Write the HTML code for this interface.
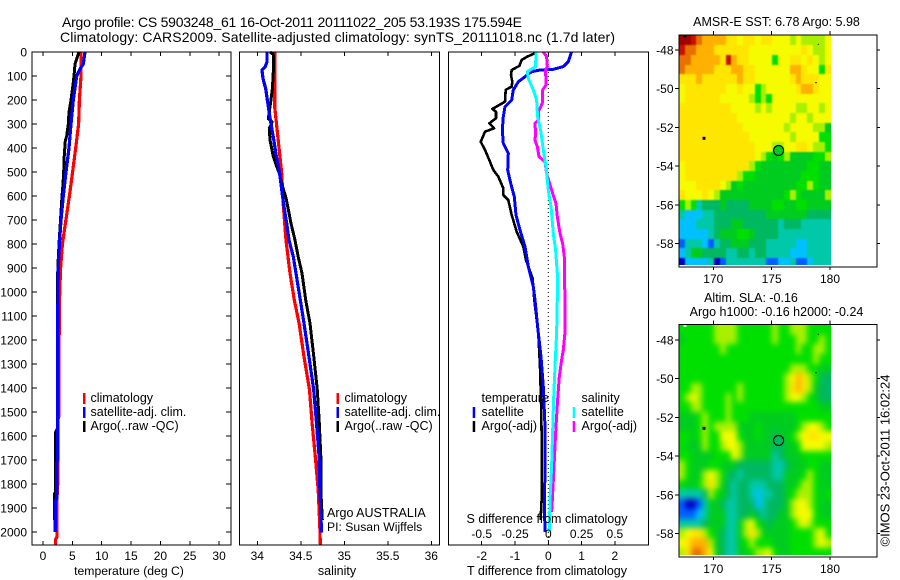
<!DOCTYPE html>
<html>
<head>
<meta charset="utf-8">
<title>Argo profile chart</title>
<style>
html,body{margin:0;padding:0;background:#fff;}
svg{display:block;font-family:"Liberation Sans",sans-serif;font-size:12.5px;fill:#000;}
text{fill:#000;stroke:none;}
</style>
</head>
<body>
<svg id="chart" xmlns="http://www.w3.org/2000/svg" width="900" height="580" viewBox="0 0 900 580">
<defs>
<filter id="soft-sst" x="-5%" y="-5%" width="110%" height="110%" color-interpolation-filters="sRGB">
<feGaussianBlur stdDeviation="0.9"/>
<feComponentTransfer><feFuncA type="linear" slope="30"/></feComponentTransfer>
</filter>
<filter id="soft-sla" x="-5%" y="-5%" width="110%" height="110%" color-interpolation-filters="sRGB">
<feGaussianBlur stdDeviation="3"/>
<feComponentTransfer><feFuncA type="linear" slope="30"/></feComponentTransfer>
</filter>
<clipPath id="clip-sst-map"><rect x="679" y="35.5" width="152" height="229.5"/></clipPath>
<clipPath id="clip-sla-map"><rect x="679" y="325" width="152" height="230"/></clipPath>
</defs>
<rect x="0" y="0" width="900" height="580" fill="#fff"/>
<g id="marks"></g>
<g id="labels">
<text x="62" y="27" font-size="14" textLength="460" lengthAdjust="spacing">Argo profile: CS 5903248_61 16-Oct-2011 20111022_205 53.193S 175.594E</text>
<text x="60" y="42" font-size="14" textLength="555" lengthAdjust="spacing">Climatology: CARS2009. Satellite-adjusted climatology: synTS_20111018.nc (1.7d later)</text>

<text x="129" y="575" text-anchor="middle" font-size="12.2">temperature (deg C)</text>
<text x="337" y="575" text-anchor="middle">salinity</text>
<text x="547" y="575" text-anchor="middle">T difference from climatology</text>
<text x="547" y="523" text-anchor="middle">S difference from climatology</text>

<rect x="83" y="393" width="2.5" height="11" fill="#ff0000"/>
<rect x="83" y="407" width="2.5" height="11" fill="#0000ff"/>
<rect x="83" y="421" width="2.5" height="11" fill="#000"/>
<text x="90.5" y="402">climatology</text>
<text x="90.5" y="416">satellite-adj. clim.</text>
<text x="90.5" y="430">Argo(..raw -QC)</text>

<rect x="336.5" y="393" width="2.5" height="11" fill="#ff0000"/>
<rect x="336.5" y="407" width="2.5" height="11" fill="#0000ff"/>
<rect x="336.5" y="421" width="2.5" height="11" fill="#000"/>
<text x="344.5" y="402">climatology</text>
<text x="344.5" y="416">satellite-adj. clim.</text>
<text x="344.5" y="430">Argo(..raw -QC)</text>
<text x="327" y="517">Argo AUSTRALIA</text>
<text x="327" y="531" font-size="12.2">PI: Susan Wijffels</text>

<text x="481.5" y="402">temperature</text>
<rect x="472.7" y="407" width="2.5" height="11" fill="#0000ff"/>
<rect x="472.7" y="421" width="2.5" height="11" fill="#000"/>
<text x="481.5" y="416">satellite</text>
<text x="481.5" y="430">Argo(-adj)</text>
<text x="581.5" y="402">salinity</text>
<rect x="572.7" y="407" width="2.5" height="11" fill="#00ffff"/>
<rect x="572.7" y="421" width="2.5" height="11" fill="#ff00ff"/>
<text x="581.5" y="416">satellite</text>
<text x="581.5" y="430">Argo(-adj)</text>

<text x="776.5" y="26" text-anchor="middle">AMSR-E SST: 6.78 Argo: 5.98</text>
<text x="751" y="302" text-anchor="middle">Altim. SLA: -0.16</text>
<text x="776.5" y="316" text-anchor="middle">Argo h1000: -0.16 h2000: -0.24</text>
<text transform="translate(889.5,546.5) rotate(-90)" font-size="13">©IMOS 23-Oct-2011 16:02:24</text>
</g>
</svg>
<script>
/* ---------- profile data ---------- */
const tempClimDepths = [0,100,200,300,400,500,600,700,800,900,1000,1100,1200,1300,1400,1520,1530,1780,1850,2020,2030,2055];
const tempClimValues = [6.47,6.47,6.2,6.07,5.57,5.05,4.5,3.9,3.3,3.0,2.85,2.8,2.75,2.72,2.7,2.7,2.55,2.55,2.4,2.4,2.15,2.15];
const tempSatDepths = [0,50,70,100,150,200,300,400,500,600,700,800,900,1000,1100,1700,1710,1860,1870,2000];
const tempSatValues = [7.15,6.87,6.3,5.74,5.45,5.16,4.77,4.43,3.92,3.46,3.07,2.8,2.6,2.55,2.5,2.5,2.35,2.35,2.1,2.1];
const tempArgoDepths = [0,50,100,150,200,250,300,350,370,450,500,550,600,700,800,900,1000,1100,1570,1583,1830,1840,1950];
const tempArgoValues = [6.13,5.45,5.28,5.05,4.77,4.43,4.31,4.03,3.8,3.58,3.52,3.4,3.23,2.98,2.73,2.52,2.47,2.45,2.45,2.16,2.16,2.0,2.0];

const salClimDepths = [0,228,367,506,645,784,922,1033,1131,1270,1408,1547,1686,1825,1965,2055];
const salClimValues = [34.2,34.2,34.24,34.28,34.3,34.33,34.376,34.425,34.48,34.537,34.6,34.63,34.667,34.7,34.717,34.725];
const salSatDepths = [0,42,62,76,111,153,228,292,367,436,506,575,645,714,784,853,922,1033,1131,1270,1408,1547,1686,1825,1965,2003];
const salSatValues = [34.11,34.11,34.09,34.054,34.065,34.096,34.127,34.154,34.19,34.22,34.257,34.28,34.307,34.338,34.364,34.414,34.445,34.494,34.537,34.594,34.648,34.68,34.71,34.72,34.735,34.735];
const salArgoDepths = [0,10,83,153,208,278,292,319,367,436,464,506,561,603,645,714,784,853,922,1033,1131,1270,1408,1547,1686,1825,1950];
const salArgoValues = [34.146,34.184,34.184,34.173,34.154,34.127,34.17,34.138,34.146,34.184,34.21,34.253,34.29,34.326,34.35,34.387,34.433,34.47,34.514,34.556,34.606,34.65,34.69,34.713,34.73,34.73,34.747];

const dTArgoDepths = [5,19,33,58,75,96,124,144,158,207,237,249,276,297,318,332,374,408,457,492,519,568,596,617,679,749,811,867,943,1033,1172,1311,1450,1589,1867,1950];
const dTArgoValues = [-0.40,-0.63,-0.80,-0.87,-1.10,-1.12,-1.08,-1.10,-1.28,-1.30,-1.68,-1.57,-1.57,-1.77,-1.63,-1.90,-2.03,-1.90,-1.75,-1.65,-1.50,-1.35,-1.35,-1.20,-1.10,-0.95,-0.75,-0.67,-0.47,-0.42,-0.30,-0.25,-0.22,-0.20,-0.20,-0.23];
const dTSatDepths = [0,40,61,72,75,82,103,124,158,200,228,269,325,381,422,492,547,603,679,742,811,894,978,1033,1144,1269,1394,1561,1755,1867,2000];
const dTSatValues = [0.70,0.60,0.45,0.15,-0.25,-0.50,-0.70,-0.90,-1.05,-1.10,-1.30,-1.35,-1.38,-1.35,-1.20,-1.22,-1.13,-1.02,-0.97,-0.85,-0.70,-0.60,-0.45,-0.40,-0.32,-0.22,-0.15,-0.10,-0.10,-0.12,-0.10];
const dSArgoDepths = [0,19,61,75,138,158,214,249,283,297,339,367,394,436,457,506,575,631,686,756,797,853,1033,1172,1242,1283,1353,1450,1589,1728,1867,1916];
const dSArgoValues = [-0.0375,-0.0125,-0.0075,-0.02,-0.0175,-0.0425,-0.045,-0.075,-0.075,-0.10,-0.095,-0.10,-0.0825,-0.07,-0.025,-0.0125,0.025,0.0575,0.0675,0.0875,0.1075,0.12,0.125,0.125,0.1125,0.10,0.0825,0.07,0.055,0.0425,0.03,0.025];
const dSSatDepths = [0,61,82,110,158,200,269,325,408,478,575,644,756,825,922,1033,1172,1311,1450,1589,1728,1867,2000];
const dSSatValues = [-0.0925,-0.095,-0.1575,-0.15,-0.1125,-0.0875,-0.08,-0.0575,-0.0375,-0.0175,0,0.02,0.0375,0.055,0.0675,0.0675,0.0625,0.05,0.04,0.0325,0.025,0.0125,0.0075];

/* ---------- tick labels ---------- */
const depthTicks = [0,100,200,300,400,500,600,700,800,900,1000,1100,1200,1300,1400,1500,1600,1700,1800,1900,2000];
const tempTicks = [0,5,10,15,20,25,30];
const salTicks = [34,34.5,35,35.5,36];
const dTTicks = [-2,-1,0,1,2];
const dSTicks = [-0.5,-0.25,0,0.25,0.5];
const lonTicks = [170,175,180];
const latTicks = [-48,-50,-52,-54,-56,-58];

/* ---------- map data: colour-scale level per 0.5 degree cell ---------- */
const sstRows = [
[13,13,12,11,10,10,10,10,9,9,8,9,9,8,9,9,8,8,8,7,8,7,7,7,7,8],
[12,11,11,10,10,10,9,9,9,9,9,9,8,8,8,8,8,8,8,8,8,9,8,7,7,8],
[11,11,10,10,10,10,10,9,12,10,9,9,8,8,8,8,6,8,8,9,9,8,9,8,7,8],
[11,10,10,10,10,10,9,9,9,10,10,9,9,8,8,8,8,8,8,10,10,9,8,8,6,9],
[9,9,9,10,9,9,9,9,9,9,10,9,9,8,8,8,8,8,8,9,10,9,9,9,8,8],
[8,9,9,9,9,9,9,9,8,8,9,8,8,6,7,8,8,8,8,8,9,10,10,9,8,8],
[8,9,9,9,9,9,9,8,8,8,8,8,7,6,7,6,8,8,8,8,8,8,8,8,8,8],
[9,9,9,9,9,9,9,9,9,8,8,8,8,7,8,7,8,8,8,8,7,7,8,8,7,8],
[9,9,9,9,9,9,9,9,9,9,8,8,8,8,8,8,8,8,8,7,8,8,7,8,8,8],
[9,9,9,9,9,9,9,9,9,9,9,8,8,8,8,8,8,8,7,8,8,8,8,7,7,5],
[9,9,9,9,9,9,9,9,9,9,9,9,8,8,8,8,8,8,8,7,8,8,8,8,6,6],
[9,9,9,9,9,9,9,9,9,9,9,9,9,8,8,8,7,7,8,8,9,9,8,7,7,6],
[9,9,9,9,9,9,9,9,9,9,9,9,9,8,7,6,5,6,7,5,5,5,5,6,6,7],
[8,9,9,9,9,9,9,9,9,9,9,9,7,6,5,5,5,5,5,5,5,5,6,6,5,5],
[8,9,9,9,9,9,9,9,9,9,7,6,6,5,5,5,5,5,5,5,5,6,6,6,5,5],
[8,8,8,9,9,9,9,8,7,5,6,5,5,5,5,5,5,5,5,5,6,6,7,6,5,5],
[9,8,8,8,9,8,7,5,5,5,5,5,5,5,5,5,5,5,6,7,6,5,5,5,5,7],
[6,7,6,3,4,4,4,5,4,4,4,4,5,5,5,5,6,6,5,5,6,6,5,5,5,5],
[3,2,2,2,3,3,4,4,4,4,4,4,4,4,4,5,5,5,5,5,5,5,4,4,4,4],
[2,2,2,3,3,3,4,4,4,5,5,4,4,4,4,4,4,3,4,4,4,3,3,3,3,3],
[2,2,2,2,2,3,4,5,5,5,6,6,5,4,4,4,4,3,3,3,3,3,3,3,3,3],
[1,3,3,3,2,1,3,4,4,5,5,5,4,4,4,3,3,3,3,3,2,2,3,3,3,3],
[2,3,5,5,4,4,4,4,3,3,4,4,3,4,4,3,3,3,3,2,2,2,3,3,3,3],
[0,2,2,2,2,3,0,1,3,3,3,3,3,3,3,1,1,2,2,3,1,1,2,3,3,3]
];
const slaRows = [
[6,6,6,6,6,6,7,7,7,7,6,6,6,6,6,6,7,6,6,7,7,7,6,6,6,6],
[5,6,6,6,6,6,7,7,7,7,6,6,6,6,6,6,7,6,6,6,7,7,6,6,7,6],
[6,6,6,6,6,6,6,7,6,6,6,6,6,6,6,6,6,6,6,6,7,6,6,7,7,6],
[6,6,6,6,6,6,6,6,6,6,6,6,6,6,6,6,6,6,6,6,6,6,6,7,6,6],
[6,6,6,6,6,6,6,6,6,6,6,6,6,6,6,6,6,6,6,7,7,7,6,6,5,5],
[6,6,6,6,6,6,6,6,6,6,6,6,6,6,6,6,6,6,7,8,10,9,7,6,4,4],
[6,6,7,7,6,6,6,6,6,6,7,6,6,6,6,6,6,6,7,9,10,9,7,5,4,4],
[6,7,8,7,6,6,6,6,7,6,7,6,6,6,6,6,6,6,7,8,8,7,6,5,4,4],
[6,6,7,7,6,6,6,6,7,6,6,6,6,6,6,6,6,6,6,6,6,6,6,6,5,5],
[5,5,5,6,7,6,6,6,7,6,6,6,5,5,5,5,5,5,5,5,6,6,6,6,6,6],
[5,5,5,6,7,6,7,7,7,7,5,5,5,6,5,5,5,5,5,5,6,7,8,8,7,6],
[6,6,5,6,7,6,6,8,8,8,6,5,5,6,5,5,4,5,5,6,7,8,9,9,8,8],
[6,5,5,5,7,6,6,7,8,8,7,5,5,5,5,5,4,4,5,5,6,8,8,8,8,7],
[6,6,5,5,5,5,6,6,6,8,7,5,5,5,5,5,3,4,5,5,5,6,6,6,6,6],
[7,6,5,5,5,6,6,5,5,5,4,4,4,4,4,4,3,3,4,5,5,5,6,6,5,5],
[7,6,5,5,7,8,7,6,4,4,3,4,4,4,4,4,3,3,5,5,5,6,7,6,5,5],
[6,5,5,6,7,9,7,5,4,3,4,4,3,3,3,4,4,4,5,5,6,7,7,6,5,5],
[3,3,3,3,4,7,6,5,4,3,4,4,3,2,3,3,4,4,5,6,7,7,7,6,5,6],
[1,0,0,1,3,5,5,4,3,3,4,4,4,2,3,4,4,4,5,7,8,8,7,6,5,5],
[1,1,1,2,3,5,5,5,3,3,4,4,5,4,3,4,4,5,5,7,8,8,8,6,5,5],
[3,3,3,3,4,5,5,5,3,3,5,7,8,6,5,4,5,5,5,6,7,8,7,6,6,6],
[7,8,9,9,7,6,5,4,3,3,5,7,9,7,5,5,5,5,5,6,6,6,6,7,8,6],
[8,9,10,10,10,7,5,4,3,3,5,6,7,6,6,6,5,5,5,6,6,6,6,7,8,7],
[7,9,11,11,10,8,5,4,3,3,5,5,6,7,7,8,6,5,5,6,6,6,6,6,6,6]
];
const argoLon = [175.594];
const argoLat = [-53.193];
const sstArgoLevel = [5];
const slaArgoLevel = [4];

/* ---------- helpers ---------- */
const NS = 'http://www.w3.org/2000/svg';
const marks = document.getElementById('marks');
const labels = document.getElementById('labels');

function make(tag, parent, name) {
  const el = document.createElementNS(NS, tag);
  
  
  parent.appendChild(el);
  return el;
}
function depthY(d) { return 52 + 0.24 * d; }
function tempX(v) { return 43 + 5.87 * v; }
function salX(v) { return 257.3 + 87 * (v - 34); }
function dTX(v) { return 548.3 + 33.3 * v; }
function dSX(v) { return 548.3 + 133.2 * v; }
function lonX(v) { return 713.3 + 11.67 * (v - 170); }
function latY(v, y48) { return y48 + 19.35 * (-48 - v); }
function levelColor(v) {
  const scale = ['#0000c8','#0060ff','#00c0ff','#00c8a8','#00b860','#00cc20','#00e000','#a8f000','#f6fb00','#ffe600','#ffb000','#e87000','#c81000','#a00000'];
  return scale[Math.max(0, Math.min(scale.length - 1, Math.round(v)))];
}

function drawBox(name, x0, y0, x1, y1) {
  const r = make('rect', marks, name);
  r.setAttribute('x', x0);
  r.setAttribute('y', y0);
  r.setAttribute('width', x1 - x0);
  r.setAttribute('height', y1 - y0);
  r.setAttribute('fill', 'none');
  r.setAttribute('stroke', '#000');
  r.setAttribute('stroke-width', '1.2');
  r.setAttribute('shape-rendering', 'crispEdges');
}
function drawTick(name, x1, y1, x2, y2) {
  const l = make('line', marks, name);
  l.setAttribute('x1', x1);
  l.setAttribute('y1', y1);
  l.setAttribute('x2', x2);
  l.setAttribute('y2', y2);
  l.setAttribute('stroke', '#000');
  l.setAttribute('stroke-width', '1');
  l.setAttribute('shape-rendering', 'crispEdges');
}
function drawLabel(name, x, y, anchor, str) {
  const t = make('text', labels, name);
  t.setAttribute('x', x);
  t.setAttribute('y', y);
  t.setAttribute('text-anchor', anchor);
  t.setAttribute('font-size', '12');
  t.textContent = str;
}
function drawProfile(name, depths, values, xFn, color, width) {
  const p = make('polyline', marks, name);
  const pts = depths.map(function (d, i) { return xFn(values[i]).toFixed(1) + ',' + depthY(d).toFixed(1); });
  p.setAttribute('points', pts.join(' '));
  p.setAttribute('fill', 'none');
  p.setAttribute('stroke', color);
  p.setAttribute('stroke-width', width);
  p.setAttribute('stroke-linejoin', 'round');
  p.setAttribute('shape-rendering', 'crispEdges');
}
function drawProfileAxes(prefix, x0, x1, ticks, xFn, showDepth) {
  ticks.forEach(function (v) {
    const x = xFn(v);
    drawTick(prefix + '-top-tick', x, 52, x, 56);
    drawTick(prefix + '-bottom-tick', x, 545, x, 541);
    drawLabel(prefix + '-tick-label', x, 560, 'middle', String(v));
  });
  if (showDepth) {
    depthTicks.forEach(function (d) {
      const y = depthY(d);
      drawTick('depth-tick-left', x0, y, x0 + 5, y);
      drawTick('depth-tick-right', x1, y, x1 - 5, y);
      drawLabel('depth-tick-label', 27, y + 4.5, 'end', String(d));
    });
  }
  drawBox(prefix + '-panel-frame', x0, 52, x1, 545);
}
function drawMap(prefix, rows, y48, top, bottom, argoLevel, softFilter, clipId, topSpeckColor) {
  const lonStart = 167.05;
  const cells = make('g', marks, prefix + '-cells');
  cells.setAttribute('filter', 'url(#' + softFilter + ')');
  cells.setAttribute('clip-path', 'url(#' + clipId + ')');
  rows.forEach(function (row, i) {
    row.forEach(function (v, j) {
      const x0 = Math.round(lonX(lonStart + 0.5 * j));
      const x1 = Math.round(lonX(lonStart + 0.5 * (j + 1)));
      const y0 = Math.round(top + 9.675 * i);
      const y1 = Math.round(top + 9.675 * (i + 1));
      const c = make('rect', cells, prefix + '-cell');
      c.setAttribute('x', x0);
      c.setAttribute('y', y0);
      c.setAttribute('width', x1 - x0);
      c.setAttribute('height', y1 - y0);
      c.setAttribute('fill', levelColor(v));
      c.setAttribute('shape-rendering', 'crispEdges');
    });
  });
  const dots = [[704, y48 + 88.3, 3, 3, '#000'], [818.3, y48 - 5.7, 1, 1, '#000'], [816, y48 + 32.7, 1.5, 1, '#000'], [685, top + 1, 3, 1.5, topSpeckColor]];
  dots.forEach(function (d) {
    const m = make('rect', marks, prefix + '-land-speck');
    m.setAttribute('x', d[0] - d[2] / 2);
    m.setAttribute('y', d[1] - d[3] / 2);
    m.setAttribute('width', d[2]);
    m.setAttribute('height', d[3]);
    m.setAttribute('fill', d[4]);
  });
  const circle = make('circle', marks, prefix + '-argo-location');
  circle.setAttribute('cx', lonX(argoLon[0]));
  circle.setAttribute('cy', latY(argoLat[0], y48));
  circle.setAttribute('r', '5');
  circle.setAttribute('fill', levelColor(argoLevel[0]));
  circle.setAttribute('stroke', '#000');
  circle.setAttribute('stroke-width', '1.1');
  const frameTop = top - 0.5;
  const frameBottom = bottom + 2;
  lonTicks.forEach(function (v) {
    const x = lonX(v);
    drawTick(prefix + '-top-tick', x, frameTop, x, frameTop - 4);
    drawTick(prefix + '-bottom-tick', x, frameBottom, x, frameBottom + 3);
    drawLabel(prefix + '-lon-label', x, frameBottom + 16, 'middle', String(v));
  });
  latTicks.forEach(function (v) {
    const y = latY(v, y48);
    drawTick(prefix + '-left-tick', 675, y, 679, y);
    drawTick(prefix + '-right-tick', 877, y, 880, y);
    drawLabel(prefix + '-lat-label', 673.5, y + 4.5, 'end', String(v));
  });
  drawBox(prefix + '-frame', 679, frameTop, 877, frameBottom);
}

/* ---------- draw ---------- */
drawProfile('temperature-climatology-line', tempClimDepths, tempClimValues, tempX, '#ff0000', 3.2);
drawProfile('temperature-argo-line', tempArgoDepths, tempArgoValues, tempX, '#000000', 3);
drawProfile('temperature-satellite-line', tempSatDepths, tempSatValues, tempX, '#0000ff', 3.2);
drawProfileAxes('temperature', 32, 231, tempTicks, tempX, true);

drawProfile('salinity-climatology-line', salClimDepths, salClimValues, salX, '#ff0000', 3.2);
drawProfile('salinity-argo-line', salArgoDepths, salArgoValues, salX, '#000000', 3);
drawProfile('salinity-satellite-line', salSatDepths, salSatValues, salX, '#0000ff', 3.2);
drawProfileAxes('salinity', 239.5, 439.5, salTicks, salX, false);

const zeroLine = make('line', marks, 'zero-difference-line');
zeroLine.setAttribute('x1', dTX(0));
zeroLine.setAttribute('x2', dTX(0));
zeroLine.setAttribute('y1', 52);
zeroLine.setAttribute('y2', 545);
zeroLine.setAttribute('stroke', '#000');
zeroLine.setAttribute('stroke-width', '1');
zeroLine.setAttribute('stroke-dasharray', '1 3');
drawProfile('t-difference-argo-line', dTArgoDepths, dTArgoValues, dTX, '#000000', 2.6);
drawProfile('t-difference-satellite-line', dTSatDepths, dTSatValues, dTX, '#0000ff', 3);
drawProfile('s-difference-argo-line', dSArgoDepths, dSArgoValues, dSX, '#ff00ff', 3);
drawProfile('s-difference-satellite-line', dSSatDepths, dSSatValues, dSX, '#00ffff', 3);
drawProfileAxes('t-difference', 448.5, 648.5, dTTicks, dTX, false);
dSTicks.forEach(function (v) {
  drawLabel('s-difference-tick-label', dSX(v), 538, 'middle', String(v));
});

drawMap('sst-map', sstRows, 50, 35.5, 265, sstArgoLevel, 'soft-sst', 'clip-sst-map', '#000');
drawMap('sla-map', slaRows, 340, 325, 555, slaArgoLevel, 'soft-sla', 'clip-sla-map', '#fff');
</script>
</body>
</html>
